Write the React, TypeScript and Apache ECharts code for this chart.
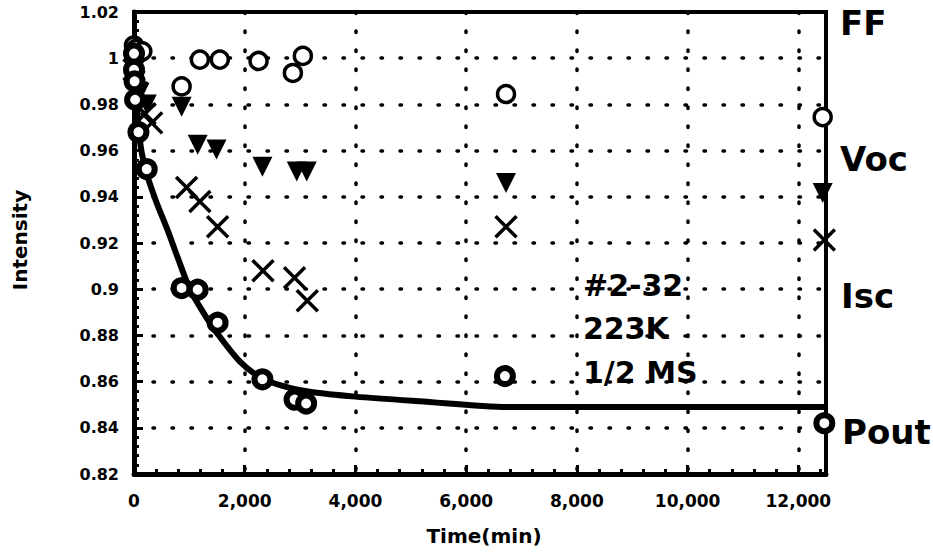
import React, { useEffect, useRef } from "react";
import * as echarts from "echarts";

// ---- data ----
const ffTime = [0, 40, 150, 860, 1190, 1550, 2250, 2870, 3050, 6720, 12440];
const ffVal = [1.0055, 1.004, 1.003, 0.9878, 0.9994, 0.9994, 0.9988, 0.9936, 1.001, 0.9845, 0.9745];

const vocTime = [0, 30, 100, 230, 860, 1150, 1490, 2320, 2940, 3120, 6720, 12440];
const vocVal = [0.998, 0.99, 0.985, 0.98, 0.979, 0.9625, 0.9605, 0.953, 0.951, 0.951, 0.946, 0.9416];

const iscTime = [0, 60, 200, 320, 950, 1190, 1510, 2330, 2900, 3130, 6720, 12470];
const iscVal = [0.995, 0.985, 0.976, 0.972, 0.944, 0.938, 0.927, 0.908, 0.905, 0.895, 0.927, 0.9213];

const poutTime = [0, 0, 10, 20, 80, 230, 860, 1150, 1510, 2320, 2900, 3110, 6700, 12470];
const poutVal = [1.002, 0.995, 0.99, 0.982, 0.968, 0.952, 0.9005, 0.8998, 0.8855, 0.861, 0.8522, 0.8505, 0.8624, 0.842];

const fitTime = [0, 50, 120, 230, 400, 600, 800, 1010, 1250, 1500, 1900, 2270, 2700, 3200, 4000, 5150, 6750, 12500];
const fitVal = [1.0, 0.98, 0.962, 0.95, 0.938, 0.926, 0.913, 0.9, 0.89, 0.881, 0.869, 0.862, 0.858, 0.8555, 0.8535, 0.8515, 0.849, 0.849];

const yTicks = ["0.82", "0.84", "0.86", "0.88", "0.9", "0.92", "0.94", "0.96", "0.98", "1", "1.02"];
const xTickLabels = ["0", "2,000", "4,000", "6,000", "8,000", "10,000", "12,000"];

const seriesNames = ["FF", "Voc", "Isc", "Pout"];
const annotation = ["#2-32", "223K", "1/2 MS"];

const zip = (a: number[], b: number[]) => a.map((v, i) => [v, b[i]]);

const FONT = "DejaVu Sans";

export default function App() {
  const ref = useRef<HTMLDivElement>(null);
  useEffect(() => {
    if (!ref.current) return;
    const chart = echarts.init(ref.current, undefined, { renderer: "svg" });
    const dotted = { color: "#000", width: 3.5, type: [1.5, 17.5] as any, cap: "round", opacity: 1 };
    chart.setOption({
      animation: false,
      backgroundColor: "#fff",
      grid: {
        left: 134,
        right: 107,
        top: 12,
        bottom: 80,
        show: true,
        borderColor: "#000",
        borderWidth: 4,
        backgroundColor: "transparent",
      },
      xAxis: {
        type: "value",
        min: 0,
        max: 12500,
        interval: 2000,
        axisLine: { show: true, onZero: false, lineStyle: { color: "#000", width: 5 } },
        axisTick: { show: true, inside: true, length: 9, lineStyle: { color: "#000", width: 3 } },
        minorTick: { show: true, splitNumber: 5, length: 5, lineStyle: { color: "#000", width: 3 } },
        splitLine: { show: true, lineStyle: dotted },
        axisLabel: {
          margin: 18,
          color: "#000",
          fontFamily: FONT,
          fontWeight: "bold",
          fontSize: 17,
          showMaxLabel: false,
          formatter: (v: number) => {
            const i = Math.round(v / 2000);
            return Math.abs(v - i * 2000) < 1 ? xTickLabels[i] ?? "" : "";
          },
        },
      },
      yAxis: {
        type: "value",
        min: 0.82,
        max: 1.02,
        interval: 0.02,
        axisLine: { show: true, onZero: false, lineStyle: { color: "#000", width: 5 } },
        axisTick: { show: true, inside: true, length: 9, lineStyle: { color: "#000", width: 3 } },
        minorTick: { show: true, splitNumber: 5, length: 5, lineStyle: { color: "#000", width: 3 } },
        splitLine: { show: true, lineStyle: dotted },
        axisLabel: {
          margin: 15,
          color: "#000",
          fontFamily: FONT,
          fontWeight: "bold",
          fontSize: 16,
          formatter: (v: number) => {
            const i = Math.round((v - 0.82) / 0.02);
            return yTicks[i] ?? "";
          },
        },
      },
      series: [
        {
          type: "line",
          name: "fit",
          data: zip(fitTime, fitVal),
          showSymbol: false,
          smooth: 0.3,
          lineStyle: { color: "#000", width: 6, opacity: 1 },
          z: 2,
        },
        {
          type: "scatter",
          name: seriesNames[0],
          data: zip(ffTime, ffVal),
          symbol: "circle",
          symbolSize: 17,
          itemStyle: { color: "#fff", borderColor: "#000", borderWidth: 3.5, opacity: 1 },
          z: 3,
        },
        {
          type: "scatter",
          name: seriesNames[1],
          data: zip(vocTime, vocVal),
          symbol: "triangle",
          symbolRotate: 180,
          symbolSize: [20, 20],
          itemStyle: { color: "#000", opacity: 1 },
          z: 3,
        },
        {
          type: "scatter",
          name: seriesNames[2],
          data: zip(iscTime, iscVal),
          symbol: "path://M0,0L10,10M10,0L0,10",
          symbolSize: 21,
          itemStyle: { color: "none", borderColor: "#000", borderWidth: 3.5, opacity: 1 },
          z: 3,
        },
        {
          type: "scatter",
          name: seriesNames[3],
          data: zip(poutTime, poutVal),
          symbol: "circle",
          symbolSize: 16,
          itemStyle: { color: "#fff", borderColor: "#000", borderWidth: 6, opacity: 1 },
          z: 4,
        },
      ],
      graphic: [
        { type: "text", left: 840, top: 6, style: { text: seriesNames[0], font: `bold 34px "${FONT}"`, fill: "#000" } },
        { type: "text", left: 840, top: 142, style: { text: seriesNames[1], font: `bold 34px "${FONT}"`, fill: "#000" } },
        { type: "text", left: 841, top: 279, style: { text: seriesNames[2], font: `bold 34px "${FONT}"`, fill: "#000" } },
        { type: "text", left: 842, top: 415, style: { text: seriesNames[3], font: `bold 34px "${FONT}"`, fill: "#000" } },
        { type: "text", left: 583, top: 270, style: { text: annotation[0], font: `bold 30px "${FONT}"`, fill: "#000" } },
        { type: "text", left: 583, top: 313, style: { text: annotation[1], font: `bold 30px "${FONT}"`, fill: "#000" } },
        { type: "text", left: 583, top: 357, style: { text: annotation[2], font: `bold 30px "${FONT}"`, fill: "#000" } },
        {
          type: "text",
          x: 20,
          y: 240,
          rotation: Math.PI / 2,
          style: {
            text: "Intensity",
            font: `bold 20px "${FONT}"`,
            fill: "#000",
            align: "center",
            verticalAlign: "middle",
          },
        },
        {
          type: "text",
          x: 484,
          y: 536,
          style: {
            text: "Time(min)",
            font: `bold 20px "${FONT}"`,
            fill: "#000",
            align: "center",
            verticalAlign: "middle",
          },
        },
      ],
    });
    return () => chart.dispose();
  }, []);
  return (
    <div
      ref={ref}
      style={{ position: "fixed", left: 0, top: 0, width: 933, height: 554, background: "#fff" }}
    />
  );
}
